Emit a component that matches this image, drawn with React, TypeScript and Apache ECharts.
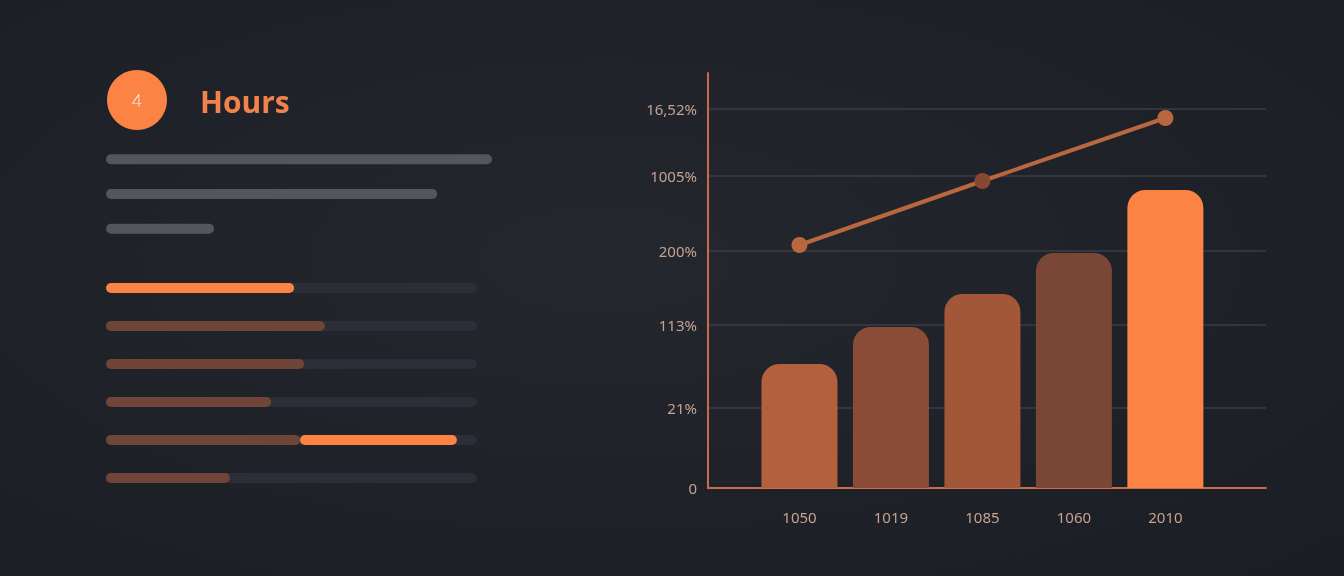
import React, { useEffect, useRef } from "react";
import * as echarts from "echarts";

// ---- main chart data ----
const categories = ["1050", "1019", "1085", "1060", "2010"];
const barValues = [124, 161, 194, 235, 298];
const barColors = ["#b3603c", "#8b4c37", "#a25838", "#7a4636", "#fb8344"];
const lineCategoryIndex = [0, 2, 4];
const lineValues = [243, 307, 370];
const lineSymbolColors = ["#b8673f", "#87482f", "#b8673f"];
const yTickValues = [0, 80, 163, 237, 312, 379];
const yTickLabels = ["0", "21%", "113%", "200%", "1005%", "16,52%"];

// ---- left panel data ----
const headerNumber = "4";
const headerTitle = "Hours";
const placeholderRows = ["p1", "p2", "p3"];
const placeholderWidths = [100, 85.8, 28];
const progressRows = ["r1", "r2", "r3", "r4", "r5", "r6"];
const progressBase = [50.7, 59, 53.4, 44.5, 52.3, 33.4];
const progressHighlight = [0, 0, 0, 0, 42.3, 0];
const progressBaseColors = ["#fb8344", "#6e4537", "#6e4537", "#6e4537", "#6e4537", "#6e4537"];

const FONT = "'Noto Sans', sans-serif";

export default function App() {
  const ref = useRef<HTMLDivElement>(null);

  useEffect(() => {
    if (!ref.current) return;
    const chart = echarts.init(ref.current, null, { renderer: "svg" });

    const option: any = {
      animation: false,
      backgroundColor: "transparent",
      grid: [
        { left: 708, right: 78, top: 73, bottom: 88 },
        { left: 106, width: 386, top: 142, height: 104 },
        { left: 106, width: 371, top: 269, height: 228 },
      ],
      xAxis: [
        {
          gridIndex: 0,
          type: "value",
          min: -1,
          max: 5.1,
          interval: 1,
          axisLine: { show: true, onZero: false, lineStyle: { color: "#c86c47", width: 2 } },
          axisTick: { show: false },
          splitLine: { show: false },
          axisLabel: {
            color: "#c6a291",
            fontSize: 15,
            fontFamily: FONT,
            margin: 21,
            showMinLabel: false,
            showMaxLabel: false,
            formatter: (v: number) =>
              Number.isInteger(v) && categories[v] !== undefined ? categories[v] : "",
          },
        },
        { gridIndex: 1, type: "value", min: 0, max: 100, show: false },
        { gridIndex: 2, type: "value", min: 0, max: 100, show: false },
      ],
      yAxis: [
        {
          gridIndex: 0,
          type: "value",
          min: 0,
          max: 415,
          axisLine: { show: true, onZero: false, lineStyle: { color: "#c86c47", width: 2 } },
          axisTick: { show: false, customValues: yTickValues },
          splitLine: { show: true, lineStyle: { color: "#3a3d47", width: 1.5 } },
          axisLabel: {
            customValues: yTickValues,
            color: "#c6a291",
            fontSize: 15,
            fontFamily: FONT,
            margin: 11,
            formatter: (v: number) => {
              const i = yTickValues.indexOf(v);
              return i >= 0 ? yTickLabels[i] : "";
            },
          },
        },
        { gridIndex: 1, type: "category", data: placeholderRows, inverse: true, show: false },
        { gridIndex: 2, type: "category", data: progressRows, inverse: true, show: false },
      ],
      series: [
        {
          type: "bar",
          xAxisIndex: 0,
          yAxisIndex: 0,
          barWidth: 76,
          data: barValues.map((v, i) => ({
            value: [i, v],
            itemStyle: { color: barColors[i], borderRadius: [18, 18, 0, 0] },
          })),
          z: 2,
        },
        {
          type: "line",
          xAxisIndex: 0,
          yAxisIndex: 0,
          symbol: "circle",
          symbolSize: 16,
          lineStyle: { color: "#b8673f", width: 4 },
          data: lineValues.map((v, i) => ({
            value: [lineCategoryIndex[i], v],
            itemStyle: { color: lineSymbolColors[i] },
          })),
          z: 3,
        },
        {
          type: "bar",
          xAxisIndex: 1,
          yAxisIndex: 1,
          barWidth: 10,
          itemStyle: { color: "#55565c", borderRadius: 5 },
          data: placeholderWidths,
        },
        {
          type: "bar",
          xAxisIndex: 2,
          yAxisIndex: 2,
          stack: "p",
          barWidth: 10,
          showBackground: true,
          backgroundStyle: { color: "#2c2e37", borderRadius: 5 },
          data: progressBase.map((v, i) => ({
            value: v,
            itemStyle: { color: progressBaseColors[i], borderRadius: 5 },
          })),
        },
        {
          type: "bar",
          xAxisIndex: 2,
          yAxisIndex: 2,
          stack: "p",
          barWidth: 10,
          itemStyle: { color: "#fb8344", borderRadius: 5 },
          data: progressHighlight,
          z: 3,
        },
      ],
      graphic: [
        {
          type: "circle",
          shape: { cx: 137, cy: 100, r: 30 },
          style: { fill: "#fb8344" },
        },
        {
          type: "text",
          x: 137,
          y: 100,
          style: {
            text: headerNumber,
            fill: "#fff3ec",
            font: "300 18px Lato, sans-serif",
            align: "center",
            verticalAlign: "middle",
          },
        },
        {
          type: "text",
          x: 200,
          y: 101,
          style: {
            text: headerTitle,
            fill: "#f3814a",
            font: "700 30px 'Open Sans', sans-serif",
            align: "left",
            verticalAlign: "middle",
          },
        },
      ],
    };

    chart.setOption(option);
    return () => chart.dispose();
  }, []);

  return (
    <div
      style={{
        position: "fixed",
        left: 0,
        top: 0,
        width: 1344,
        height: 576,
        background: "radial-gradient(ellipse at 45% 45%, #25272f 0%, #1e2028 70%, #1b1d24 100%)",
      }}
    >
      <div ref={ref} style={{ width: 1344, height: 576 }} />
    </div>
  );
}
